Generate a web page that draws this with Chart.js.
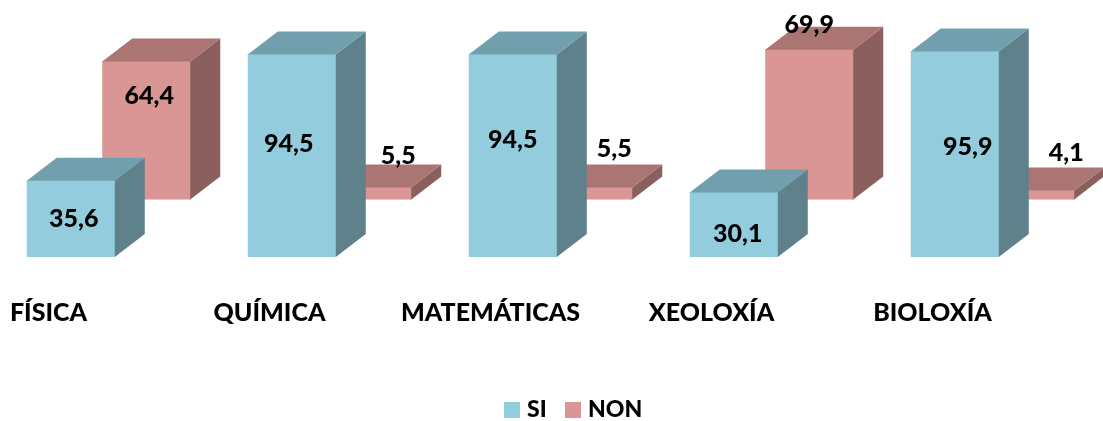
<!DOCTYPE html>
<html>
<head>
<meta charset="utf-8">
<style>
  html, body { margin: 0; padding: 0; background: #fff; overflow: hidden; }
  #wrap { position: absolute; left: -2px; top: 0; width: 1105px; height: 421px; }
</style>
<script src="https://cdn.jsdelivr.net/npm/chart.js@4"></script>
</head>
<body>
<div id="wrap"><canvas id="chart"></canvas></div>
<script>
const categories = ['FÍSICA', 'QUÍMICA', 'MATEMÁTICAS', 'XEOLOXÍA', 'BIOLOXÍA'];
const siValues = [35.6, 94.5, 94.5, 30.1, 95.9];
const nonValues = [64.4, 5.5, 5.5, 69.9, 4.1];

// hand placed labels in the original: offset from the middle of the front face
const siLabelOffsets = [[3, 0], [-3, -12], [0, -16], [4, 9], [13, -7]];
const nonLabelOffsets = [[3, -34], [31, -38], [26, -45], [0, -100], [36, -42]];

const FONT = 'Lato, sans-serif';
const DEPTH_X = 30;
const DEPTH_Y = -23;

const faceColors = [
  { side: '#5F818C', top: '#729FAE' },
  { side: '#8B5F5E', top: '#AA7573' }
];

function poly(ctx, pts, color) {
  ctx.fillStyle = color;
  ctx.beginPath();
  pts.forEach((p, i) => i ? ctx.lineTo(p[0], p[1]) : ctx.moveTo(p[0], p[1]));
  ctx.closePath();
  ctx.fill();
}

// side and top faces go under each dataset's front faces
const box3d = {
  id: 'box3d',
  beforeDatasetDraw(chart, args) {
    const ctx = chart.ctx;
    const colors = faceColors[args.index];
    ctx.save();
    args.meta.data.forEach(bar => {
      const l = bar.x - bar.width / 2;
      const r = bar.x + bar.width / 2;
      // 1px under the front face so no seam shows
      poly(ctx, [[r - 1, bar.y], [r, bar.y], [r + DEPTH_X, bar.y + DEPTH_Y], [r + DEPTH_X, bar.base + DEPTH_Y], [r, bar.base], [r - 1, bar.base]], colors.side);
      poly(ctx, [[l, bar.y + 1], [l, bar.y], [l + DEPTH_X, bar.y + DEPTH_Y], [r + DEPTH_X, bar.y + DEPTH_Y], [r, bar.y], [r, bar.y + 1]], colors.top);
    });
    ctx.restore();
  },
  afterDatasetsDraw(chart) {
    const ctx = chart.ctx;
    ctx.save();
    ctx.font = '900 25px ' + FONT;
    ctx.fillStyle = '#000';
    ctx.textAlign = 'center';
    ctx.textBaseline = 'middle';
    chart.data.datasets.forEach((ds, i) => {
      const offs = i === 0 ? siLabelOffsets : nonLabelOffsets;
      chart.getDatasetMeta(i).data.forEach((bar, j) => {
        const text = String(ds.data[j]).replace('.', ',');
        ctx.fillText(text, bar.x + offs[j][0], (bar.y + bar.base) / 2 + offs[j][1]);
      });
    });
    ctx.restore();
  }
};

// legend sits off centre in the original, so it is placed by hand
const sideLegend = {
  id: 'sideLegend',
  afterDraw(chart) {
    const ctx = chart.ctx;
    let x = 506;
    ctx.save();
    ctx.font = '900 23px ' + FONT;
    ctx.textBaseline = 'middle';
    chart.data.datasets.forEach(ds => {
      ctx.fillStyle = ds.backgroundColor;
      ctx.fillRect(x, 402, 16, 16);
      ctx.fillStyle = '#000';
      ctx.fillText(ds.label, x + 23, 410);
      x += 61;
    });
    ctx.restore();
  }
};

new Chart(document.getElementById('chart'), {
  type: 'bar',
  data: {
    labels: categories,
    datasets: [
      { label: 'SI', data: siValues, backgroundColor: '#93CDDD', yAxisID: 'y', categoryPercentage: 0.683, barPercentage: 1.166 },
      { label: 'NON', data: nonValues, backgroundColor: '#D99694', yAxisID: 'y2', categoryPercentage: 0.683, barPercentage: 1.166 }
    ]
  },
  plugins: [box3d, sideLegend],
  options: {
    responsive: true,
    maintainAspectRatio: false,
    animation: false,
    layout: { padding: 0 },
    plugins: {
      tooltip: { enabled: false },
      legend: { display: false }
    },
    scales: {
      x: {
        grid: { display: false },
        border: { display: false },
        afterFit(axis) { axis.height = 421 - 257; },
        ticks: {
          color: '#000',
          maxRotation: 0,
          autoSkip: false,
          padding: 33,
          labelOffset: -60,
          font: { family: FONT, size: 25, weight: 900 }
        }
      },
      y: { display: false, min: 0, max: 120 },
      y2: { display: false, min: -26.9, max: 93.1 }
    }
  }
});
</script>
</body>
</html>
